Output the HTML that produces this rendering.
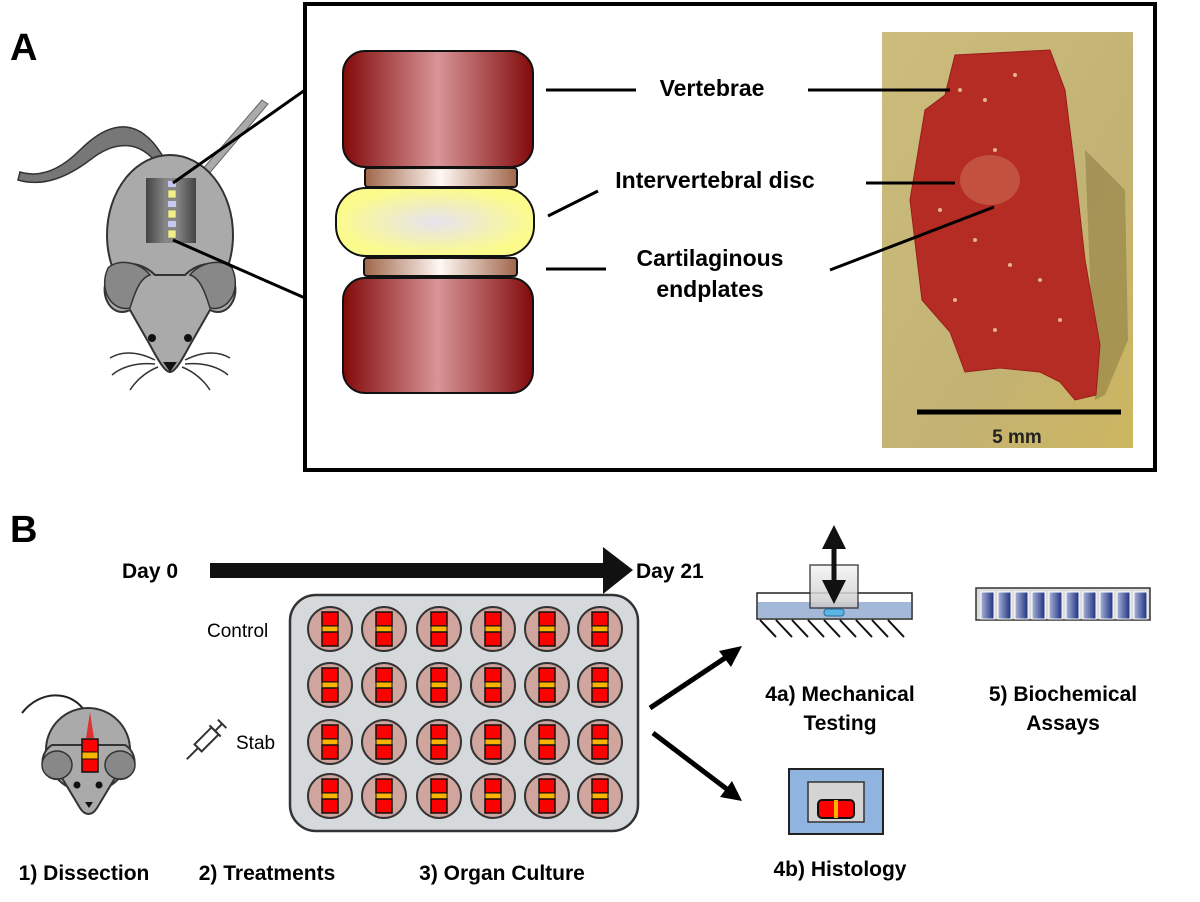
<!DOCTYPE html>
<html><head><meta charset="utf-8"><style>
html,body{margin:0;padding:0;background:#fff;}
svg{display:block;}
text{font-family:"Liberation Sans",Arial,sans-serif;}
</style></head><body>
<svg width="1200" height="902" viewBox="0 0 1200 902" xmlns="http://www.w3.org/2000/svg">
<defs>
<linearGradient id="vert" x1="0" x2="1" y1="0" y2="0">
<stop offset="0" stop-color="#820a0a"/><stop offset="0.5" stop-color="#d89598"/><stop offset="1" stop-color="#820a0a"/></linearGradient>
<linearGradient id="ep" x1="0" x2="1"><stop offset="0" stop-color="#a0664a"/><stop offset="0.5" stop-color="#fff8f4"/><stop offset="1" stop-color="#a0664a"/></linearGradient>
<radialGradient id="disc" cx="0.5" cy="0.5" r="0.5"><stop offset="0" stop-color="#e6e2f0"/><stop offset="1" stop-color="#fbfb8c"/></radialGradient>
<linearGradient id="photo" x1="0" x2="1" y1="0" y2="1"><stop offset="0" stop-color="#cdbd7c"/><stop offset="0.6" stop-color="#c2b274"/><stop offset="1" stop-color="#cdb660"/></linearGradient>
<linearGradient id="spine" x1="0" x2="1"><stop offset="0" stop-color="#444"/><stop offset="0.4" stop-color="#888"/><stop offset="0.6" stop-color="#888"/><stop offset="1" stop-color="#444"/></linearGradient>
<linearGradient id="tube" x1="0" x2="1"><stop offset="0" stop-color="#a8b4d8"/><stop offset="1" stop-color="#1e2f80"/></linearGradient>
<linearGradient id="box" x1="0" x2="0" y1="0" y2="1"><stop offset="0" stop-color="#f4f4f4"/><stop offset="1" stop-color="#c8c8c8"/></linearGradient>
<g id="well"><circle r="22" fill="#cfa59e" stroke="#333" stroke-width="2"/>
<rect x="-8" y="-17" width="16" height="14" fill="#f00" stroke="#111" stroke-width="1.5"/>
<rect x="-8" y="-3" width="16" height="6" fill="#f9b400" stroke="#111" stroke-width="1"/>
<rect x="-8" y="3" width="16" height="14" fill="#f00" stroke="#111" stroke-width="1.5"/></g>
</defs>

<!-- Panel A -->
<text x="10" y="60" font-size="38" font-weight="bold">A</text>
<rect x="305" y="4" width="850" height="466" fill="none" stroke="#000" stroke-width="4"/>

<!-- mouse A -->
<path d="M165,160 C140,115 110,120 80,150 C60,170 40,178 20,172 L18,180 C45,188 70,175 90,160 C115,140 140,140 158,165 Z" fill="#777" stroke="#333" stroke-width="1.5"/>
<path d="M195,178 L262,100 L268,104 L202,182 Z" fill="#aaa" stroke="#666"/>
<ellipse cx="170" cy="235" rx="63" ry="80" fill="#aaa" stroke="#333" stroke-width="2"/>
<path d="M112,270 C95,290 110,320 130,310 L150,345 C158,360 165,372 170,372 C175,372 182,360 190,345 L210,310 C230,320 245,290 228,270 C215,258 195,265 185,275 L155,275 C145,265 125,258 112,270 Z" fill="#aaa" stroke="#333" stroke-width="2"/>
<path d="M108,268 C98,290 112,312 130,308 C135,292 140,278 150,275 C140,262 118,258 108,268 Z" fill="#888" stroke="#333" stroke-width="1.5"/>
<path d="M232,268 C242,290 228,312 210,308 C205,292 200,278 190,275 C200,262 222,258 232,268 Z" fill="#888" stroke="#333" stroke-width="1.5"/>
<circle cx="152" cy="338" r="4" fill="#111"/><circle cx="188" cy="338" r="4" fill="#111"/>
<path d="M163,362 L177,362 L170,372 Z" fill="#111"/>
<g stroke="#333" stroke-width="1.5" fill="none"><path d="M155,360 C135,350 120,352 110,358"/><path d="M155,364 C135,362 120,368 112,375"/><path d="M158,367 C145,372 135,382 130,390"/><path d="M185,360 C205,350 220,352 230,358"/><path d="M185,364 C205,362 220,368 228,375"/><path d="M182,367 C195,372 205,382 210,390"/></g>
<rect x="146" y="178" width="50" height="65" fill="url(#spine)"/>
<g fill="#f0f08a" stroke="#666" stroke-width="0.5"><rect x="168" y="190" width="8" height="8"/><rect x="168" y="210" width="8" height="8"/><rect x="168" y="230" width="8" height="8"/></g>
<g fill="#c8c8f0"><rect x="168" y="181" width="8" height="6"/><rect x="168" y="201" width="8" height="6"/><rect x="168" y="221" width="8" height="6"/></g>
<line x1="173" y1="183" x2="305" y2="90" stroke="#000" stroke-width="3"/>
<line x1="173" y1="240" x2="305" y2="298" stroke="#000" stroke-width="3"/>

<!-- spine diagram -->
<rect x="343" y="51" width="190" height="116" rx="22" fill="url(#vert)" stroke="#111" stroke-width="2"/>
<rect x="365" y="168" width="152" height="19" rx="3" fill="url(#ep)" stroke="#111" stroke-width="2"/>
<rect x="336" y="188" width="198" height="68" rx="30" fill="url(#disc)" stroke="#111" stroke-width="2"/>
<rect x="364" y="258" width="153" height="18" rx="3" fill="url(#ep)" stroke="#111" stroke-width="2"/>
<rect x="343" y="278" width="190" height="115" rx="22" fill="url(#vert)" stroke="#111" stroke-width="2"/>

<g font-weight="bold" font-size="23" text-anchor="middle">
<text x="712" y="96">Vertebrae</text>
<text x="715" y="188">Intervertebral disc</text>
<text x="710" y="266">Cartilaginous</text>
<text x="710" y="297">endplates</text></g>
<g stroke="#000" stroke-width="3">
<line x1="546" y1="90" x2="636" y2="90"/>
<line x1="548" y1="216" x2="598" y2="191"/>
<line x1="546" y1="269" x2="606" y2="269"/></g>

<!-- photo -->
<rect x="882" y="32" width="251" height="416" fill="url(#photo)"/>
<path d="M1085,150 L1125,190 L1128,340 L1105,395 L1095,400 Z" fill="#8a7a40" opacity="0.55"/>
<path d="M955,55 L1050,50 L1065,90 L1075,170 L1085,260 L1100,345 L1096,395 L1075,400 L1060,382 L1040,372 L1000,368 L965,372 L950,332 L922,300 L910,200 L925,110 L945,95 Z" fill="#b42c24" stroke="#9a1e1a"/>
<ellipse cx="990" cy="180" rx="30" ry="25" fill="#cc6a52" opacity="0.6"/>
<g fill="#f0d8a0" opacity="0.8"><circle cx="960" cy="90" r="2"/><circle cx="985" cy="100" r="2"/><circle cx="995" cy="150" r="2"/><circle cx="940" cy="210" r="2"/><circle cx="975" cy="240" r="2"/><circle cx="1010" cy="265" r="2"/><circle cx="955" cy="300" r="2"/><circle cx="995" cy="330" r="2"/><circle cx="1040" cy="280" r="2"/><circle cx="1060" cy="320" r="2"/><circle cx="1015" cy="75" r="2"/></g>
<line x1="917" y1="412" x2="1121" y2="412" stroke="#000" stroke-width="5"/>
<text x="1017" y="443" font-size="19" font-weight="bold" text-anchor="middle" fill="#222">5 mm</text>
<line x1="808" y1="90" x2="950" y2="90" stroke="#000" stroke-width="3"/>
<line x1="866" y1="183" x2="955" y2="183" stroke="#000" stroke-width="3"/>
<line x1="830" y1="270" x2="994" y2="207" stroke="#000" stroke-width="3"/>

<!-- Panel B -->
<text x="10" y="542" font-size="38" font-weight="bold">B</text>
<text x="122" y="578" font-size="21" font-weight="bold">Day 0</text>
<rect x="210" y="563" width="395" height="15" fill="#111"/>
<path d="M603,547 L633,570 L603,594 Z" fill="#111"/>
<text x="636" y="578" font-size="21" font-weight="bold">Day 21</text>

<rect x="290" y="595" width="348" height="236" rx="26" fill="#d6d9dc" stroke="#333" stroke-width="2.5"/>
<g>
<use href="#well" x="330" y="629"/><use href="#well" x="384" y="629"/><use href="#well" x="439" y="629"/><use href="#well" x="493" y="629"/><use href="#well" x="547" y="629"/><use href="#well" x="600" y="629"/>
<use href="#well" x="330" y="685"/><use href="#well" x="384" y="685"/><use href="#well" x="439" y="685"/><use href="#well" x="493" y="685"/><use href="#well" x="547" y="685"/><use href="#well" x="600" y="685"/>
<use href="#well" x="330" y="742"/><use href="#well" x="384" y="742"/><use href="#well" x="439" y="742"/><use href="#well" x="493" y="742"/><use href="#well" x="547" y="742"/><use href="#well" x="600" y="742"/>
<use href="#well" x="330" y="796"/><use href="#well" x="384" y="796"/><use href="#well" x="439" y="796"/><use href="#well" x="493" y="796"/><use href="#well" x="547" y="796"/><use href="#well" x="600" y="796"/>
</g>
<text x="207" y="637" font-size="19">Control</text>
<text x="236" y="749" font-size="19">Stab</text>

<!-- syringe -->
<g transform="translate(208,738) rotate(-45)">
<line x1="-30" y1="0" x2="-14" y2="0" stroke="#333" stroke-width="2"/>
<rect x="-14" y="-5" width="24" height="10" fill="#fff" stroke="#333" stroke-width="2"/>
<line x1="10" y1="-8" x2="10" y2="8" stroke="#333" stroke-width="2"/>
<line x1="10" y1="0" x2="20" y2="0" stroke="#333" stroke-width="2"/>
<line x1="20" y1="-6" x2="20" y2="6" stroke="#333" stroke-width="2"/></g>

<!-- mouse B -->
<path d="M22,713 C40,690 70,690 84,710" fill="none" stroke="#222" stroke-width="2"/>
<circle cx="88" cy="750" r="42" fill="#aaa" stroke="#333" stroke-width="2"/>
<path d="M52,745 C35,755 42,785 62,778 L80,808 C85,816 92,816 97,808 L115,778 C135,785 142,755 125,745 Z" fill="#aaa" stroke="#333" stroke-width="2"/>
<ellipse cx="57" cy="765" rx="15" ry="14" fill="#888" stroke="#333" stroke-width="1.5"/>
<ellipse cx="120" cy="765" rx="15" ry="14" fill="#888" stroke="#333" stroke-width="1.5"/>
<circle cx="77" cy="785" r="3.5" fill="#111"/><circle cx="99" cy="785" r="3.5" fill="#111"/>
<path d="M85,802 L93,802 L89,808 Z" fill="#111"/>
<path d="M86,738 L90,712 L94,738 Z" fill="#d33" />
<rect x="82" y="739" width="16" height="33" fill="#f00" stroke="#111" stroke-width="1.5"/>
<rect x="82" y="752" width="16" height="7" fill="#f9b400" stroke="#111" stroke-width="1"/>

<!-- arrows -->
<line x1="650" y1="708" x2="728" y2="656" stroke="#000" stroke-width="5"/>
<path d="M742,646 L719,651 L731,667 Z" fill="#000"/>
<line x1="653" y1="733" x2="728" y2="790" stroke="#000" stroke-width="5"/>
<path d="M742,801 L720,797 L732,781 Z" fill="#000"/>

<!-- mechanical -->
<rect x="757" y="593" width="155" height="26" fill="#fff" stroke="#222" stroke-width="1.5"/>
<rect x="758" y="602" width="153" height="16" fill="#a4b8d8"/>
<rect x="810" y="565" width="48" height="43" fill="url(#box)" stroke="#333" stroke-width="1.5" opacity="0.85"/>
<rect x="824" y="609" width="20" height="7" rx="3" fill="#5ab4e4" stroke="#2a6c98"/>
<g stroke="#111" stroke-width="2">
<line x1="760" y1="620" x2="776" y2="637"/><line x1="776" y1="620" x2="792" y2="637"/><line x1="792" y1="620" x2="808" y2="637"/><line x1="808" y1="620" x2="824" y2="637"/><line x1="824" y1="620" x2="840" y2="637"/><line x1="840" y1="620" x2="856" y2="637"/><line x1="856" y1="620" x2="872" y2="637"/><line x1="872" y1="620" x2="888" y2="637"/><line x1="888" y1="620" x2="904" y2="637"/></g>
<line x1="834" y1="545" x2="834" y2="585" stroke="#111" stroke-width="5"/>
<path d="M822,549 L834,525 L846,549 Z" fill="#111"/>
<path d="M822,580 L834,604 L846,580 Z" fill="#111"/>

<!-- biochem -->
<rect x="976" y="588" width="174" height="32" fill="#ddd" stroke="#333" stroke-width="1.5"/>
<g fill="url(#tube)" stroke="#fff" stroke-width="1">
<rect x="981" y="592" width="13" height="27"/><rect x="998" y="592" width="13" height="27"/><rect x="1015" y="592" width="13" height="27"/><rect x="1032" y="592" width="13" height="27"/><rect x="1049" y="592" width="13" height="27"/><rect x="1066" y="592" width="13" height="27"/><rect x="1083" y="592" width="13" height="27"/><rect x="1100" y="592" width="13" height="27"/><rect x="1117" y="592" width="13" height="27"/><rect x="1134" y="592" width="13" height="27"/></g>

<!-- histology -->
<rect x="789" y="769" width="94" height="65" fill="#8fb4e0" stroke="#222" stroke-width="2"/>
<rect x="808" y="782" width="56" height="40" fill="#d4d4d4" stroke="#333" stroke-width="1.5"/>
<rect x="818" y="800" width="36" height="18" rx="4" fill="#f00" stroke="#111" stroke-width="2"/>
<rect x="834" y="800" width="4" height="18" fill="#f9b400"/>

<g font-size="21" font-weight="bold" text-anchor="middle">
<text x="840" y="701">4a) Mechanical</text>
<text x="840" y="730">Testing</text>
<text x="1063" y="701">5) Biochemical</text>
<text x="1063" y="730">Assays</text>
<text x="840" y="876">4b) Histology</text>
<text x="84" y="880">1) Dissection</text>
<text x="267" y="880">2) Treatments</text>
<text x="502" y="880">3) Organ Culture</text></g>
</svg>
</body></html>
